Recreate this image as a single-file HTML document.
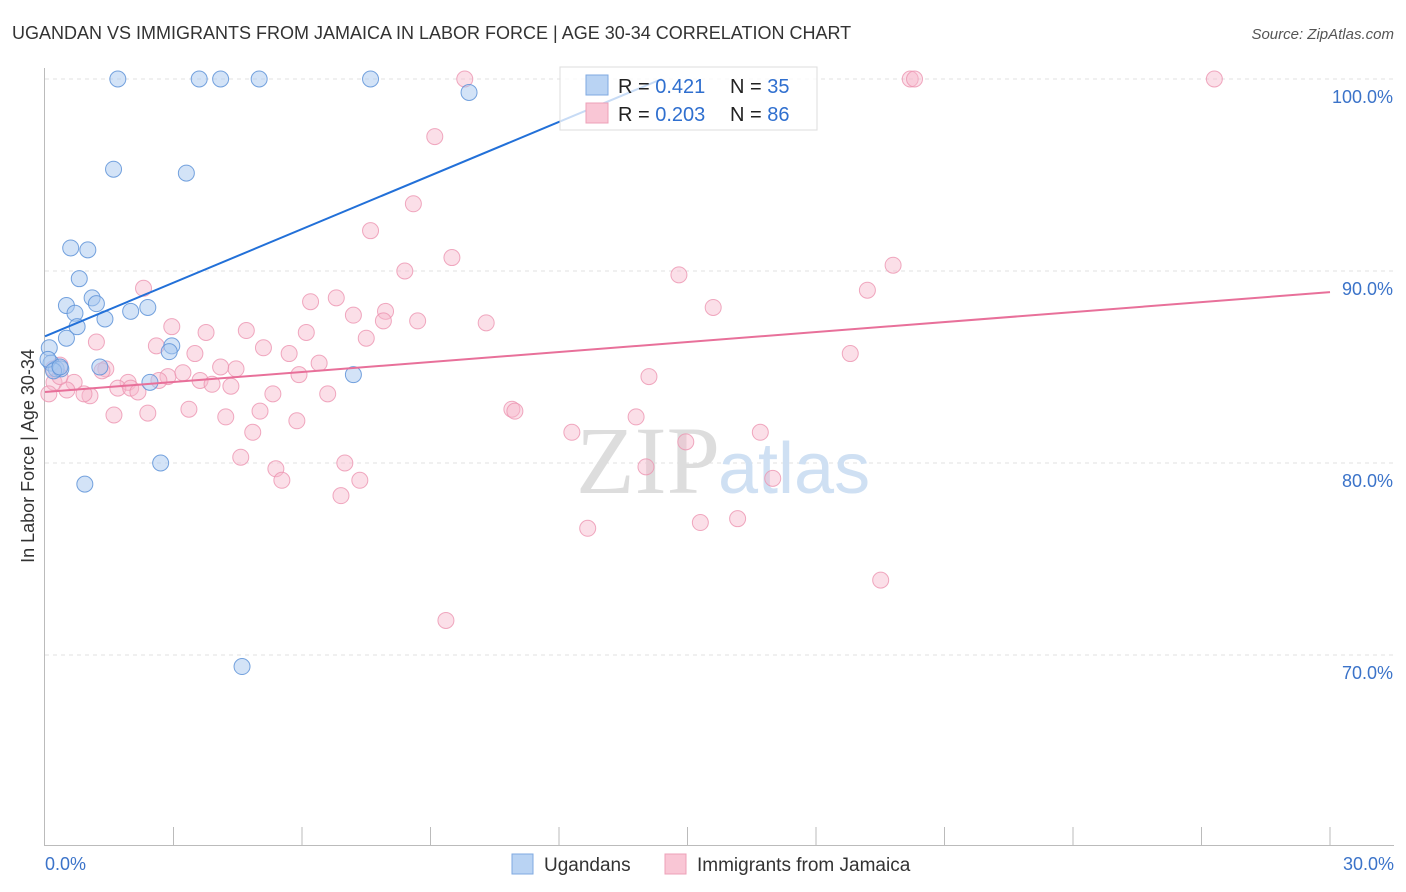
<!DOCTYPE html>
<html><head><meta charset="utf-8"><style>
body{margin:0;background:#fff;font-family:"Liberation Sans",sans-serif;}
svg{display:block}
</style></head><body>
<svg width="1406" height="892">
<text x="12" y="39" font-size="18" fill="#333">UGANDAN VS IMMIGRANTS FROM JAMAICA IN LABOR FORCE | AGE 30-34 CORRELATION CHART</text>
<text x="1394" y="39" font-size="15" fill="#555" text-anchor="end" font-style="italic">Source: ZipAtlas.com</text>
<g id="grid"></g>
<text x="720" y="493" font-size="96" fill="#ddd" text-anchor="end" font-family="Liberation Serif,serif">ZIP</text>
<text x="718" y="493" font-size="72" fill="#cfe0f3">atlas</text>
<g id="axes"></g>
<g id="pts"></g>
<g id="lines"></g>
<text transform="translate(34,456) rotate(-90)" font-size="18" fill="#333" text-anchor="middle">In Labor Force | Age 30-34</text>
<text x="45" y="870" font-size="18" fill="#3b73c9">0.0%</text>
<text x="1394" y="870" font-size="18" fill="#3b73c9" text-anchor="end">30.0%</text>
<g>
<rect x="560" y="67" width="257" height="63" fill="#fff" fill-opacity="0.75" stroke="#ddd"/>
<rect x="586" y="75" width="22" height="20" fill="#b9d3f3" stroke="#7fa9e0"/>
<rect x="586" y="103" width="22" height="20" fill="#f9c6d5" stroke="#eda0b8"/>
<text x="618" y="93" font-size="20" fill="#222">R = <tspan fill="#2f6fcf">0.421</tspan></text>
<text x="730" y="93" font-size="20" fill="#222">N = <tspan fill="#2f6fcf">35</tspan></text>
<text x="618" y="121" font-size="20" fill="#222">R = <tspan fill="#2f6fcf">0.203</tspan></text>
<text x="730" y="121" font-size="20" fill="#222">N = <tspan fill="#2f6fcf">86</tspan></text>
</g>
<g>
<rect x="512" y="854" width="21" height="20" fill="#b9d3f3" stroke="#7fa9e0"/>
<text x="544" y="871" font-size="19" fill="#333">Ugandans</text>
<rect x="665" y="854" width="21" height="20" fill="#f9c6d5" stroke="#eda0b8"/>
<text x="697" y="871" font-size="19" fill="#333">Immigrants from Jamaica</text>
</g>
</svg>
<script>
const blueX=[1.7,3.6,4.1,5.0,7.6,9.9,1.6,3.3,0.6,1.0,0.8,0.5,1.1,1.2,0.7,1.4,2.0,2.4,0.75,0.5,0.1,2.96,2.9,0.14,0.26,0.37,1.28,2.45,7.2,2.7,0.93,4.6,0.07,0.2,0.35];
const blueY=[100,100,100,100,100,99.3,95.3,95.1,91.2,91.1,89.6,88.2,88.6,88.3,87.8,87.5,87.9,88.1,87.1,86.5,86.0,86.1,85.8,85.2,84.9,84.9,85.0,84.2,84.6,80.0,78.9,69.4,85.4,84.8,85.0];
const pinkX=[9.8,20.2,20.3,27.3,9.1,8.6,7.6,9.5,8.4,14.8,19.8,2.3,19.2,6.8,6.2,15.6,7.95,7.2,7.9,8.7,10.3,2.96,3.76,4.7,6.1,7.5,1.2,2.6,5.1,18.8,5.7,3.5,0.35,0.19,6.4,1.42,4.46,4.1,2.87,5.93,3.22,14.1,3.62,2.66,0.68,0.21,1.94,3.9,1.7,2.0,0.09,0.51,1.05,2.17,4.34,5.32,6.6,0.91,3.36,1.61,2.4,4.22,5.02,5.88,10.9,10.97,13.8,4.85,12.3,16.7,14.96,4.57,7.0,5.39,14.03,5.53,7.35,16.99,6.91,12.67,15.3,16.17,19.51,9.36,1.33,0.35];
const pinkY=[100,100,100,100,97.0,93.5,92.1,90.7,90.0,89.8,90.3,89.1,89.0,88.6,88.4,88.1,87.9,87.7,87.4,87.4,87.3,87.1,86.8,86.9,86.8,86.5,86.3,86.1,86.0,85.7,85.7,85.7,85.1,84.9,85.2,84.9,84.9,85.0,84.5,84.6,84.7,84.5,84.3,84.3,84.2,84.2,84.2,84.1,83.9,83.9,83.6,83.8,83.5,83.7,84.0,83.6,83.6,83.6,82.8,82.5,82.6,82.4,82.7,82.2,82.8,82.7,82.4,81.6,81.6,81.6,81.1,80.3,80.0,79.7,79.8,79.1,79.1,79.2,78.3,76.6,76.9,77.1,73.9,71.8,84.8,84.5];
const tickY=[100,90,80,70];
const trendBlue=[[0,86.6],[14.4,100]];
const trendPink=[[0,83.7],[30,88.9]];
const NS='http://www.w3.org/2000/svg';
const sx=v=>45+v/30*1285, sy=v=>79+(100-v)*19.2;
function mk(t,a,p){const e=document.createElementNS(NS,t);for(const k in a)e.setAttribute(k,a[k]);document.getElementById(p).appendChild(e);return e;}
tickY.forEach(t=>{
 const l=mk('line',{x1:45,x2:1394,y1:sy(t),y2:sy(t),stroke:'#e2e2e2','stroke-dasharray':'4,4'},'grid');
 
 
 const tx=mk('text',{x:1393,y:sy(t)+24,'font-size':18,fill:'#3b73c9','text-anchor':'end'},'grid');
 tx.textContent=t.toFixed(1)+'%';
 
 
});
let ax=mk('line',{x1:44.5,x2:44.5,y1:68,y2:845,stroke:'#bbb'},'axes');


ax=mk('line',{x1:44,x2:1394,y1:845.5,y2:845.5,stroke:'#bbb'},'axes');


for(let i=1;i<=10;i++){
 const tk=mk('line',{x1:sx(i*3),x2:sx(i*3),y1:827,y2:845,stroke:'#bbb'},'axes');
 
 
}
pinkX.forEach((x,i)=>{
 const c=mk('circle',{cx:sx(x),cy:sy(pinkY[i]),r:8,fill:'#f7b9cc','fill-opacity':0.45,stroke:'#ec94b0','stroke-opacity':0.8},'pts');
 
 
});
blueX.forEach((x,i)=>{
 const c=mk('circle',{cx:sx(x),cy:sy(blueY[i]),r:8,fill:'#a8c8f0','fill-opacity':0.5,stroke:'#5e93d8','stroke-opacity':0.85},'pts');
 
 
});
let t=mk('line',{x1:sx(trendBlue[0][0]),y1:sy(trendBlue[0][1]),x2:sx(trendBlue[1][0]),y2:sy(trendBlue[1][1]),stroke:'#2270d8','stroke-width':2},'lines');


t=mk('line',{x1:sx(trendPink[0][0]),y1:sy(trendPink[0][1]),x2:sx(trendPink[1][0]),y2:sy(trendPink[1][1]),stroke:'#e8709a','stroke-width':2},'lines');


</script>
</body></html>
